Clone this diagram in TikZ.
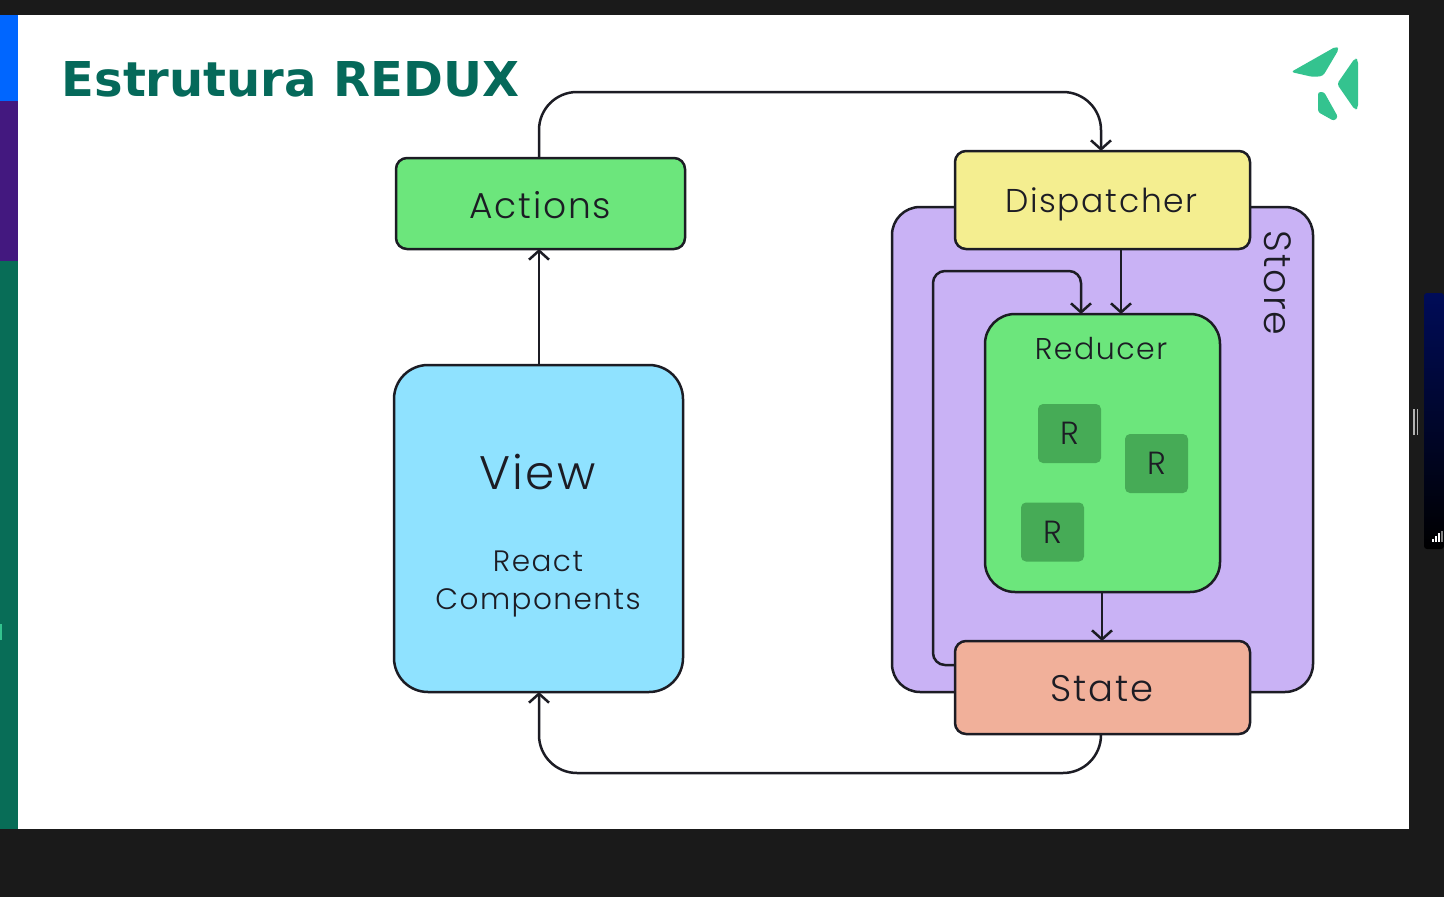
\documentclass[tikz,border=0pt]{standalone}
\usepackage{fontspec}
\setmainfont{Poppins Light}[LetterSpace=5]
\newfontfamily\titlefont{DejaVu Sans Bold}
\usetikzlibrary{arrows.meta}
\definecolor{bgdark}{HTML}{1A1A1A}
\definecolor{barblue}{HTML}{0066FF}
\definecolor{barpurple}{HTML}{43187F}
\definecolor{bargreen}{HTML}{086D57}
\definecolor{titlegreen}{HTML}{05695A}
\definecolor{logogreen}{HTML}{34C38F}
\definecolor{boxgreen}{HTML}{6CE67C}
\definecolor{boxblue}{HTML}{8FE2FF}
\definecolor{boxyellow}{HTML}{F4EE90}
\definecolor{boxpurple}{HTML}{C9B2F5}
\definecolor{boxsalmon}{HTML}{F1B09A}
\definecolor{rgreen}{HTML}{46AB56}
\definecolor{ink}{HTML}{1C1C24}
\definecolor{navy}{HTML}{000C58}
\definecolor{navydark}{HTML}{000620}
\tikzset{
  boxnode/.style={draw=ink,line width=2.5pt,rounded corners=#1,inner sep=0pt,align=center,text=ink},
  boxnode/.default=11pt,
  rnode/.style={fill=rgreen,rounded corners=5pt,minimum width=63pt,minimum height=59pt,inner sep=0pt,font=\fontsize{32}{34}\selectfont,text=ink},
  link/.style={draw=ink,line width=2.5pt,rounded corners=#1},
  link/.default=38pt,
  tip/.style={-{Straight Barb[length=9pt,width=20pt,line width=2.5pt]}}
}
\begin{document}
\begin{tikzpicture}[x=1pt,y=-1pt]
\useasboundingbox (0,0) rectangle (1444,897);
\fill[bgdark] (0,0) rectangle (1444,897);
\fill[white] (18,15) rectangle (1409,829);
\fill[barblue] (0,15) rectangle (18,101);
\fill[barpurple] (0,101) rectangle (18,261);
\fill[bargreen] (0,261) rectangle (18,829);
\fill[logogreen] (0,624) rectangle (2,640);
% right-hand thumbnail
\shade[top color=navy,middle color=navydark,bottom color=black,rounded corners=3pt] (1424,293) rectangle (1444,549);
\fill[white!70!black] (1413,409) rectangle (1414.5,435);
\fill[white!70!black] (1416.5,409) rectangle (1418,435);
\fill[white] (1432,539) rectangle (1433.5,542);
\fill[white] (1435,536) rectangle (1436.5,542);
\fill[white] (1438,533) rectangle (1439.5,542);
\fill[gray] (1441,531) rectangle (1442.5,542);
% title
\node[anchor=base west,inner sep=0pt,text=titlegreen,font=\titlefont\fontsize{48}{52}\selectfont] (title) at (61.5,96) {Estrutura REDUX};
% logo
\fill[logogreen,rounded corners=3pt] (1291,72) -- (1336,46.5) -- (1339,49) -- (1323,76) -- (1313,77) -- cycle;
\fill[logogreen,rounded corners=3pt] (1337,84) -- (1355,58) -- (1358,60) -- (1358,108) -- (1355,110) -- cycle;
\fill[logogreen,rounded corners=2.5pt] (1318,92) -- (1324,92) -- (1338,117) -- (1334,121) -- (1318,112) -- cycle;
% boxes
\node[boxnode=28pt,fill=boxpurple,minimum width=421pt,minimum height=485pt] (store) at (1102.5,449.5) {};
\node[boxnode,fill=boxgreen,minimum width=289pt,minimum height=91pt] (actions) at (540.5,203.5) {};
\node[anchor=center,inner sep=0pt,text=ink,font=\fontsize{36}{40}\selectfont] (actionstext) at (540.5,205.5) {Actions};
\node[boxnode,fill=boxyellow,minimum width=295pt,minimum height=98pt] (dispatcher) at (1102.5,200) {};
\node[anchor=center,inner sep=0pt,text=ink,font=\fontsize{33}{36}\selectfont] (dispatchertext) at (1101.5,204.5) {Dispatcher};
\node[boxnode=34pt,fill=boxblue,minimum width=289pt,minimum height=327pt] (view) at (538.5,528.5) {};
\node[anchor=center,inner sep=0pt,text=ink,font=\fontsize{47}{50}\selectfont] (viewtext) at (537.5,472) {View};
\node[anchor=center,inner sep=0pt,text=ink,align=center,font=\fontsize{29.5}{38.5}\selectfont] (viewsub) at (538,584) {React\\Components};
\node[boxnode=30pt,fill=boxgreen,minimum width=235pt,minimum height=278pt] (reducer) at (1102.5,453) {};
\node[anchor=center,inner sep=0pt,text=ink,font=\fontsize{30}{32}\selectfont] (reducertext) at (1101,349) {Reducer};
\node[boxnode,fill=boxsalmon,minimum width=295pt,minimum height=93pt] (state) at (1102.5,687.5) {};
\node[anchor=center,inner sep=0pt,text=ink,font=\fontsize{37}{40}\selectfont] (statetext) at (1102,688.5) {State};
\node[rnode] (r1) at (1069.5,433.5) {R};
\node[rnode] (r2) at (1156.5,463.5) {R};
\node[rnode] (r3) at (1052.5,532) {R};
\node[anchor=center,inner sep=0pt,rotate=-90,text=ink,font=\fontsize{38}{40}\selectfont] (storetext) at (1278,283) {Store};
% connectors
\coordinate (a0) at (539,158);
\coordinate (a1) at (539,92);
\coordinate (a2) at (1101,92);
\coordinate (a3) at (1101,151);
\draw[link,tip] (a0) -- (a1) -- (a2) -- (a3);
\coordinate (v0) at (539,365);
\coordinate (v1) at (539,249);
\draw[link=0pt,tip] (v0) -- (v1);
\coordinate (s0) at (1101,734);
\coordinate (s1) at (1101,773);
\coordinate (s2) at (539,773);
\coordinate (s3) at (539,692);
\draw[link,tip] (s0) -- (s1) -- (s2) -- (s3);
\coordinate (d0) at (1121,249);
\coordinate (d1) at (1121,314);
\draw[link=0pt,tip] (d0) -- (d1);
\coordinate (e0) at (1102,592);
\coordinate (e1) at (1102,641);
\draw[link=0pt,tip] (e0) -- (e1);
\coordinate (f0) at (955,665);
\coordinate (f1) at (933,665);
\coordinate (f2) at (933,271);
\coordinate (f3) at (1081,271);
\coordinate (f4) at (1081,314);
\draw[link=12pt,tip] (f0) -- (f1) -- (f2) -- (f3) -- (f4);
\end{tikzpicture}
\end{document}
